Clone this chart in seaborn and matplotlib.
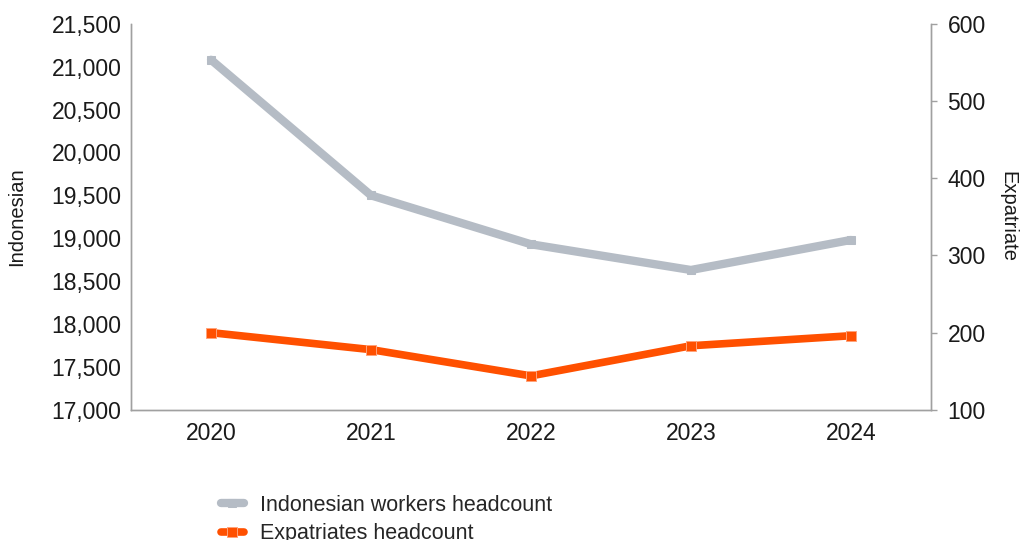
import matplotlib
matplotlib.use("Agg")
import matplotlib.pyplot as plt
import seaborn as sns
import pandas as pd
from matplotlib.ticker import FuncFormatter

years = ["2020", "2021", "2022", "2023", "2024"]
indonesian = [21080, 19500, 18930, 18630, 18980]
expatriates = [200, 178, 144, 183, 196]

sns.set_theme(style="white")
plt.rcParams['font.family'] = ['Liberation Sans', 'DejaVu Sans']

df = pd.DataFrame({"year": years, "x": range(len(years)),
                   "indonesian": indonesian, "expatriates": expatriates})

fig = plt.figure(figsize=(10.24, 5.4), dpi=100)
ax = fig.add_axes([0.128, 0.241, 0.781, 0.715])
ax2 = ax.twinx()

gray = "#B5BCC5"
orange = "#FF5000"

sns.lineplot(data=df, x="x", y="indonesian", ax=ax, color=gray, linewidth=6,
             marker="s", markersize=6, markeredgecolor=gray, label="Indonesian workers headcount",
             legend=False)
sns.lineplot(data=df, x="x", y="expatriates", ax=ax2, color=orange, linewidth=5.5,
             marker="s", markersize=6.5, markeredgecolor="#FFA27A", markeredgewidth=0.7,
             label="Expatriates headcount", legend=False)

ax.set_xlim(-0.5, 4.5)
ax.set_xticks(range(len(years)))
ax.set_xticklabels(years)
ax.set_ylim(17000, 21500)
ax.set_yticks(range(17000, 21501, 500))
ax.yaxis.set_major_formatter(FuncFormatter(lambda v, p: f"{int(v):,}"))
ax2.set_ylim(100, 600)
ax2.set_yticks(range(100, 601, 100))

ax.set_xlabel("")
ax.set_ylabel("Indonesian", fontsize=14.5, color="#1a1a1a", labelpad=18)
ax2.set_ylabel("Expatriate", fontsize=14.5, color="#1a1a1a", rotation=270, labelpad=23)

for a in (ax, ax2):
    a.tick_params(axis="both", labelsize=16.5, colors="#1a1a1a", length=0, pad=7)
    for s in a.spines.values():
        s.set_color("#a0a0a0")
        s.set_linewidth(1.0)
    a.spines["top"].set_visible(False)
    a.grid(False)
ax.tick_params(axis="x", pad=9)
ax2.tick_params(axis="y", length=4, width=1, color="#a0a0a0", pad=8)

h1, l1 = ax.get_legend_handles_labels()
h2, l2 = ax2.get_legend_handles_labels()
fig.legend(h1 + h2, l1 + l2, loc="upper left", bbox_to_anchor=(0.207, 0.1),
           frameon=False, fontsize=15.5, handlelength=1.1, handletextpad=0.75,
           labelspacing=0.35, borderaxespad=0)

fig.savefig("out.png", dpi=100)
